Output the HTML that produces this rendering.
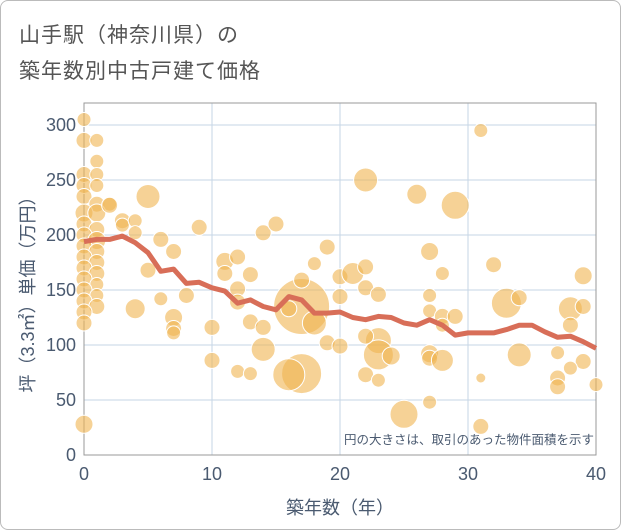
<!DOCTYPE html>
<html><head><meta charset="utf-8"><style>
body{margin:0;background:#fff;}
#wrap{position:relative;width:619px;height:528px;border:1px solid #bbb;border-radius:8px;overflow:hidden;font-family:"Liberation Sans","Noto Sans CJK JP",sans-serif;}
.title{position:absolute;left:18px;font-size:21px;color:#555;letter-spacing:1px;}
</style></head><body>
<div id="wrap">
<div class="title" style="top:18px">山手駅（神奈川県）の</div>
<div class="title" style="top:54px">築年数別中古戸建て価格</div>
<svg id="chart" width="621" height="530" style="position:absolute;left:-1px;top:-1px"></svg>
</div>
<script>
const xTicks=[0,10,20,30,40];
const yTicks=[0,50,100,150,200,250,300];
const bubbleAge=[0,0,1,1,0,1,0,1,0,1,2,0,1,0,1,0,1,0,1,0,1,0,1,0,1,0,1,0,1,0,0,0,3,3,4,4,5,4,5,6,6,7,7,7,7,8,9,10,10,11,11,12,12,12,12,13,13,13,14,14,14,15,17,17,16,18,16,19,18,17,19,20,20,20,22,26,29,27,28,32,39,21,22,22,23,27,27,28,29,28,33,34,38,39,38,23,23,24,22,27,27,28,34,37,39,38,40,22,23,31,37,37,27,25,31,31,2];
const bubblePrice=[305,286,286,267,255,255,245,245,235,228,228,220,220,210,205,200,195,190,185,180,175,170,165,160,155,150,145,140,135,130,120,28,213,209,213,202,235,133,168,196,142,185,125,115,111,145,207,116,86,176,165,180,151,139,76,164,121,74,202,116,96,210,135,74,73,120,133,189,174,159,102,162,144,99,250,237,227,185,165,173,163,165,171,152,146,145,131,126,126,118,138,143,133,135,118,104,91,90,108,92,88,86,91,93,85,79,64,73,68,70,70,62,48,37,295,26,227];
const bubbleR=[7,8,7,7,8,7,8,7,8,8,7,9,9,8,8,8,9,8,8,8,8,8,8,8,7,8,7,8,8,8,8,9,8,7,7,7,12,10,8,8,7,8,9,8,7,8,8,8,8,9,8,8,8,8,7,8,8,7,8,8,12,8,28,20,16,12,8,8,7,8,8,8,8,8,12,10,14,9,7,8,9,11,8,8,8,7,7,8,8,7,15,8,12,8,8,13,15,9,8,9,8,11,12,7,8,7,7,8,7,5,8,8,7,14,7,8,8];
const trendAge=[0,1,2,3,4,5,6,7,8,9,10,11,12,13,14,15,16,17,18,19,20,21,22,23,24,25,26,27,28,29,30,31,32,33,34,35,36,37,38,39,40];
const trendPrice=[194,196,196,199,193,184,167,169,156,157,152,149,138,141,135,132,144,141,129,129,130,125,123,126,125,120,118,123,118,109,111,111,111,114,118,118,112,107,108,103,97];
const L=84,R=596,T=103,B=455;
const xs=v=>L+(v-0)/40*(R-L);
const ys=v=>B-v/300*(B-125);
const NS="http://www.w3.org/2000/svg";
const svg=document.getElementById('chart');
function mk(t,a){const e=document.createElementNS(NS,t);for(const k in a)e.setAttribute(k,a[k]);svg.appendChild(e);return e;}
xTicks.forEach(v=>{const l=mk('line',{x1:xs(v),x2:xs(v),y1:T,y2:B,stroke:'#c5d6e6','stroke-width':1});


const t=mk('text',{x:xs(v),y:480,'text-anchor':'middle','font-size':18,fill:'#4a5a70'});t.textContent=v;

});
yTicks.forEach(v=>{const l=mk('line',{x1:L,x2:R,y1:ys(v),y2:ys(v),stroke:'#c5d6e6','stroke-width':1});


const t=mk('text',{x:76,y:ys(v)+6,'text-anchor':'end','font-size':18,fill:'#4a5a70'});t.textContent=v;

});
const fr=mk('rect',{x:L,y:T,width:R-L,height:B-T,fill:'none',stroke:'#999','stroke-width':1});


bubbleAge.forEach((a,i)=>{const c=mk('circle',{cx:xs(a),cy:ys(bubblePrice[i]),r:bubbleR[i],fill:'rgba(240,180,80,0.6)',stroke:'#fff','stroke-width':1});

});
const pl=mk('polyline',{points:trendAge.map((a,i)=>xs(a)+','+ys(trendPrice[i])).join(' '),fill:'none',stroke:'#d86e58','stroke-width':5,'stroke-linejoin':'round'});


const note=mk('text',{x:594,y:444,'text-anchor':'end','font-size':12.5,fill:'#4a5a70'});note.textContent='円の大きさは、取引のあった物件面積を示す';


const xt=mk('text',{x:340,y:514,'text-anchor':'middle','font-size':18,fill:'#4a5a70'});xt.textContent='築年数（年）';


const yt=mk('text',{x:0,y:0,'text-anchor':'middle','font-size':18,fill:'#4a5a70',transform:'translate(34,290) rotate(-90)'});yt.textContent='坪（3.3㎡）単価（万円）';


</script>
</body></html>
